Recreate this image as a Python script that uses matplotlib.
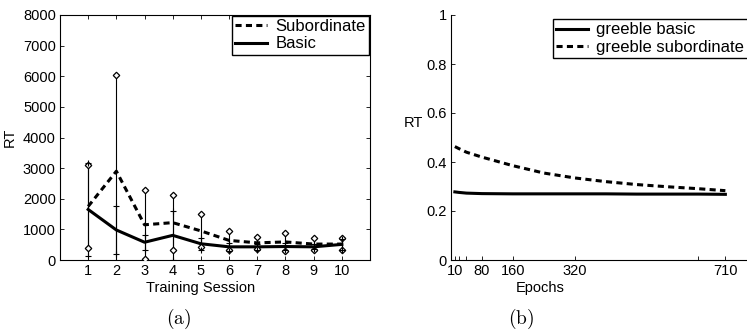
import numpy as np
import matplotlib
matplotlib.use("Agg")
import matplotlib.pyplot as plt

plt.rcParams['font.family'] = ['Liberation Sans', 'DejaVu Sans']
plt.rcParams['mathtext.fontset'] = 'cm'

# ---- panel (a) data ----
sessions = [1, 2, 3, 4, 5, 6, 7, 8, 9, 10]
sub_mean = [1750, 2900, 1150, 1220, 950, 640, 560, 590, 520, 520]
sub_sd = [1350, 3150, 1120, 900, 540, 310, 200, 300, 190, 190]
basic_mean = [1650, 980, 580, 805, 530, 430, 430, 440, 430, 510]
basic_sd = [1520, 780, 240, 805, 190, 140, 100, 110, 80, 180]
yticks_a = [0, 1000, 2000, 3000, 4000, 5000, 6000, 7000, 8000]

# ---- panel (b) data ----
epochs = [10, 20, 40, 80, 160, 240, 320, 400, 480, 560, 640, 710]
greeble_sub = [0.463, 0.455, 0.440, 0.420, 0.385, 0.355, 0.335, 0.320, 0.308, 0.299, 0.291, 0.283]
greeble_basic = [0.278, 0.276, 0.273, 0.271, 0.270, 0.270, 0.270, 0.270, 0.269, 0.269, 0.269, 0.268]
xticks_b = [10, 20, 40, 80, 160, 320, 640, 710]
xticklabels_b = ['10', '', '', '80', '160', '320', '', '710']
yticks_b = [0, 0.2, 0.4, 0.6, 0.8, 1]
yticklabels_b = ['0', '0.2', '0.4', '0.6', '0.8', '1']

W, H = 747, 333
fig = plt.figure(figsize=(W / 100, H / 100), dpi=100)

def rect(x0, y0, x1, y1):
    return [x0 / W, 1 - y1 / H, (x1 - x0) / W, (y1 - y0) / H]

FS = 10.5
LFS = 12
dash = (0, (2.0, 1.4))

# ---------- (a) ----------
ax = fig.add_axes(rect(60, 15, 370, 260))
x = np.array(sessions)
sm, ss = np.array(sub_mean), np.array(sub_sd)
bm, bs = np.array(basic_mean), np.array(basic_sd)
ax.vlines(x, sm - ss, sm + ss, color='k', lw=0.8, zorder=2)
ax.vlines(x, bm - bs, bm + bs, color='k', lw=0.8, zorder=2)
ax.plot(x, sm + ss, 'D', ms=3.3, mfc='white', mec='k', mew=0.9, zorder=4)
ax.plot(x, sm - ss, 'D', ms=3.3, mfc='white', mec='k', mew=0.9, zorder=4)
ax.plot(x, bm + bs, '+', ms=4, mec='k', mew=0.8, zorder=4)
ax.plot(x, bm - bs, '+', ms=4, mec='k', mew=0.8, zorder=4)
l1, = ax.plot(x, sm, color='k', lw=2.2, ls=dash, label='Subordinate', zorder=3)
l2, = ax.plot(x, bm, color='k', lw=2.2, ls='-', label='Basic', zorder=3)
ax.set_xlim(0, 11)
ax.set_ylim(0, 8000)
ax.set_xticks(sessions)
ax.set_yticks(yticks_a)
ax.tick_params(direction='in', length=3, width=0.6, labelsize=FS, top=True, right=True, pad=3)
for s in ax.spines.values():
    s.set_linewidth(0.8)
ax.set_ylabel('RT', fontsize=FS)
ax.yaxis.set_label_coords(-43 / 310, 0.5)
ax.set_xlabel('Training Session', fontsize=FS)
ax.xaxis.set_label_coords((201 - 60) / 310, -21 / 245)
leg = ax.legend(handles=[l1, l2], loc='upper right', bbox_to_anchor=(369 / W, 1 - 15.5 / H),
                bbox_transform=fig.transFigure, fontsize=LFS, frameon=True, fancybox=False,
                edgecolor='k', framealpha=1, borderaxespad=0, handlelength=1.9,
                handletextpad=0.5, borderpad=0.2, labelspacing=0.15)
leg.get_frame().set_linewidth(1.0)

# ---------- (b) ----------
bx = fig.add_axes(rect(451, 15, 747, 260))
l3, = bx.plot(epochs, greeble_basic, color='k', lw=2.2, ls='-', label='greeble basic')
l4, = bx.plot(epochs, greeble_sub, color='k', lw=2.2, ls=dash, label='greeble subordinate')
bx.set_xlim(0, 766)
bx.set_ylim(0, 1)
bx.set_xticks(xticks_b)
bx.set_xticklabels(xticklabels_b)
bx.set_yticks(yticks_b)
bx.set_yticklabels(yticklabels_b)
bx.spines['top'].set_visible(False)
bx.spines['right'].set_visible(False)
for s in ['left', 'bottom']:
    bx.spines[s].set_linewidth(0.8)
bx.tick_params(direction='in', length=3, width=0.6, labelsize=FS, pad=3)
bx.set_ylabel('RT', fontsize=FS, rotation=0, ha='center', va='center')
bx.yaxis.set_label_coords(-38 / 296, (260 - 123) / 245)
bx.set_xlabel('Epochs', fontsize=FS)
bx.xaxis.set_label_coords((540 - 451) / 296, -21 / 245)
leg2 = bx.legend(handles=[l3, l4], loc='upper left', bbox_to_anchor=(553 / W, 1 - 19 / H),
                 bbox_transform=fig.transFigure, fontsize=LFS, frameon=True, fancybox=False,
                 edgecolor='k', framealpha=1, borderaxespad=0, handlelength=1.9,
                 handletextpad=0.5, borderpad=0.2, labelspacing=0.15)
leg2.get_frame().set_linewidth(1.0)

# panel labels
fig.text(179 / W, 1 - 319 / H, r'$\mathrm{(a)}$', ha='center', va='center', fontsize=14)
fig.text(521 / W, 1 - 319 / H, r'$\mathrm{(b)}$', ha='center', va='center', fontsize=14)

fig.savefig('out.png', dpi=100)
